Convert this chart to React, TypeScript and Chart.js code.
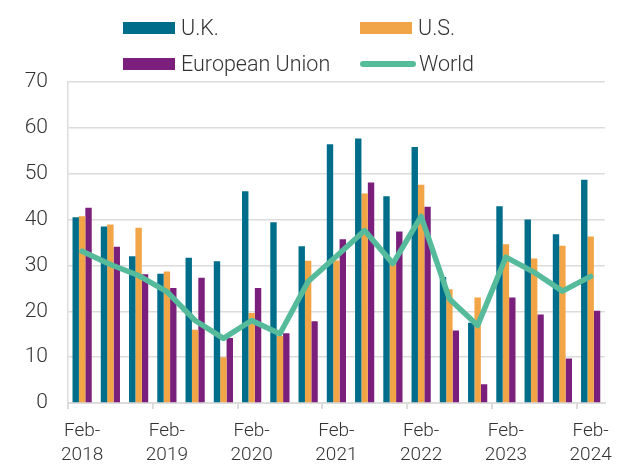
import React, { useEffect, useRef } from "react";
import { Chart, registerables } from "chart.js";

Chart.register(...registerables);

const categories = [
  "Feb-2018", "Jun-2018", "Oct-2018",
  "Feb-2019", "Jun-2019", "Oct-2019",
  "Feb-2020", "Jun-2020", "Oct-2020",
  "Feb-2021", "Jun-2021", "Oct-2021",
  "Feb-2022", "Jun-2022", "Oct-2022",
  "Feb-2023", "Jun-2023", "Oct-2023",
  "Feb-2024",
];

const ukValues = [40.5, 38.5, 32.0, 28.2, 31.7, 30.9, 46.2, 39.4, 34.2, 56.4, 57.7, 45.1, 55.8, 27.5, 17.5, 42.9, 40.0, 36.8, 48.7];
const usValues = [40.7, 38.9, 38.2, 28.7, 16.0, 10.0, 19.6, 14.6, 31.0, 31.1, 45.7, 30.2, 47.6, 24.8, 23.0, 34.6, 31.5, 34.3, 36.3];
const euValues = [42.6, 34.1, 28.1, 25.1, 27.3, 14.2, 25.1, 15.2, 17.8, 35.7, 48.1, 37.4, 42.8, 15.8, 4.1, 23.0, 19.3, 9.7, 20.1];
const worldValues = [33.1, 30.2, 27.8, 24.3, 18.0, 14.1, 18.0, 15.1, 26.5, 32.0, 37.6, 30.4, 40.7, 22.7, 16.9, 31.8, 28.5, 24.4, 27.6];

const yTicks = [0, 10, 20, 30, 40, 50, 60, 70];

const COLORS = {
  uk: "#006e8a",
  us: "#f2a546",
  eu: "#7a207c",
  world: "#55bb9b",
};

const FONT = "Roboto, 'Liberation Sans', sans-serif";
const TEXT = "#333333";
const GRID = "#dcdcdc";

const legendItems = [
  { label: "U.K.", color: COLORS.uk, kind: "bar" },
  { label: "U.S.", color: COLORS.us, kind: "bar" },
  { label: "European Union", color: COLORS.eu, kind: "bar" },
  { label: "World", color: COLORS.world, kind: "line" },
];

export default function App() {
  const ref = useRef<HTMLCanvasElement | null>(null);

  useEffect(() => {
    document.body.style.margin = "0";
    const canvas = ref.current;
    if (!canvas) return;
    const barCommon = {
      type: "bar" as const,
      order: 1,
      barPercentage: 1.0,
      categoryPercentage: 0.68,
      borderWidth: 0,
    };
    const chart = new Chart(canvas, {
      type: "bar",
      data: {
        labels: categories,
        datasets: [
          { ...barCommon, label: "U.K.", data: ukValues, backgroundColor: COLORS.uk },
          { ...barCommon, label: "U.S.", data: usValues, backgroundColor: COLORS.us },
          { ...barCommon, label: "European Union", data: euValues, backgroundColor: COLORS.eu },
          {
            type: "line" as const,
            order: 0,
            label: "World",
            data: worldValues,
            borderColor: COLORS.world,
            backgroundColor: COLORS.world,
            borderWidth: 5.5,
            pointRadius: 0,
            tension: 0,
            borderJoinStyle: "round",
            borderCapStyle: "round",
          } as any,
        ],
      },
      options: {
        animation: false,
        responsive: false,
        maintainAspectRatio: false,
        layout: { padding: { top: 82, right: 10, bottom: 0, left: 0 } },
        plugins: {
          legend: { display: false },
          tooltip: { enabled: false },
        },
        scales: {
          x: {
            type: "category",
            offset: true,
            afterFit: (s: any) => {
              s.height = 65;
            },
            grid: {
              offset: true,
              drawOnChartArea: false,
              drawTicks: true,
              tickLength: 6,
              lineWidth: 2,
              color: (ctx: any) =>
                typeof ctx.index === "number" && ctx.index % 3 === 0 ? GRID : "rgba(0,0,0,0)",
            },
            border: { display: true, color: GRID, width: 2 },
            ticks: {
              autoSkip: false,
              maxRotation: 0,
              minRotation: 0,
              padding: 10,
              color: TEXT,
              font: { family: FONT, size: 19, weight: 300 as any, lineHeight: 1.27 },
              callback: function (this: any, _v: any, index: number) {
                if (index % 3 !== 0) return "";
                const lbl = categories[index];
                const i = lbl.indexOf("-");
                return [lbl.slice(0, i + 1), lbl.slice(i + 1)];
              },
            },
          },
          y: {
            min: 0,
            max: 70,
            afterFit: (s: any) => {
              s.width = 68;
            },
            afterBuildTicks: (s: any) => {
              s.ticks = yTicks.map((v) => ({ value: v }));
            },
            grid: {
              color: GRID,
              lineWidth: 1.5,
              drawTicks: false,
            },
            border: { display: true, color: GRID, width: 1.5 },
            ticks: {
              padding: 20,
              color: TEXT,
              font: { family: FONT, size: 21, weight: 300 as any },
            },
          },
        },
      },
    });
    return () => chart.destroy();
  }, []);

  return (
    <div style={{ position: "relative", width: 622, height: 468, overflow: "hidden", background: "#fff" }}>
      <canvas ref={ref} width={622} height={468} style={{ position: "absolute", left: 0, top: 0 }} />
      <div
        style={{
          position: "absolute",
          left: 123,
          top: 10,
          display: "grid",
          gridTemplateColumns: "237px auto",
          rowGap: 0,
          fontFamily: FONT,
          fontWeight: 300,
          fontSize: 21.5,
          color: TEXT,
        }}
      >
        {legendItems.map((it) => (
          <div key={it.label} style={{ display: "flex", alignItems: "center", height: 36 }}>
            {it.kind === "bar" ? (
              <span style={{ display: "inline-block", width: 52, height: 12, background: it.color }} />
            ) : (
              <span style={{ display: "inline-block", width: 56, height: 6, borderRadius: 3, background: it.color }} />
            )}
            <span style={{ marginLeft: it.kind === "bar" ? 6 : 3, whiteSpace: "nowrap", lineHeight: "36px" }}>{it.label}</span>
          </div>
        ))}
      </div>
    </div>
  );
}
